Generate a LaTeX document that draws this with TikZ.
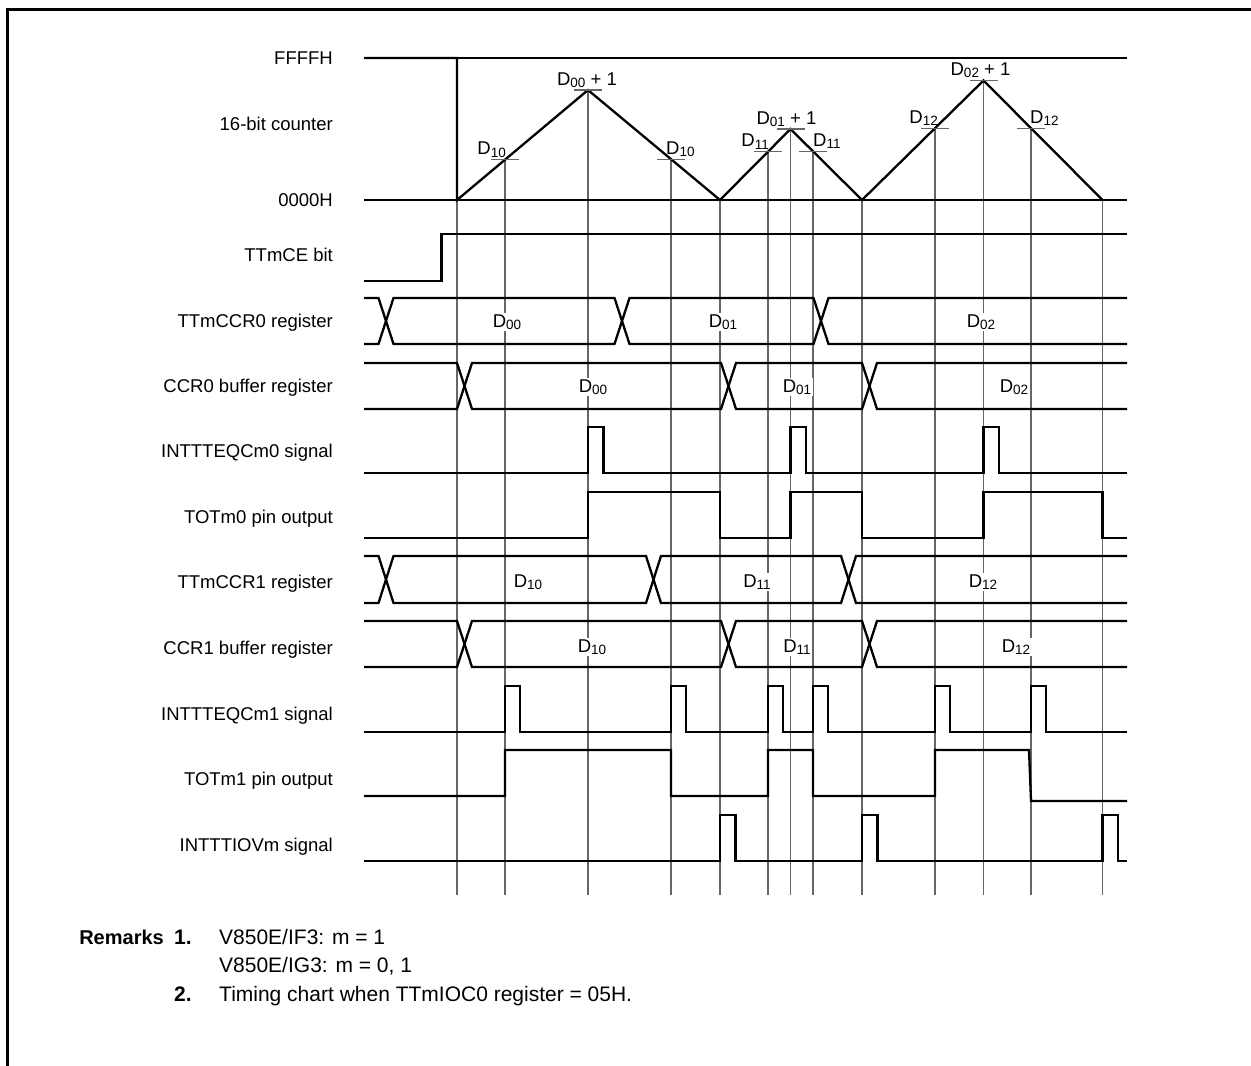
\documentclass[tikz,border=0pt]{standalone}
\usepackage{fontspec}
\setmainfont{Liberation Sans}
\usetikzlibrary{positioning}
\newcommand{\Dn}[1]{D\raisebox{-0.25ex}{\fontsize{13.5}{14}\selectfont #1}}

\begin{document}
\begin{tikzpicture}[
  x=1pt,y=-1pt,
  font=\fontsize{18.5}{20}\selectfont,
  sig/.style={line width=2.3pt,line join=miter},
  axis/.style={line width=1.2pt},
  guide/.style={draw=black!60,line width=1.1pt},
  tick/.style={draw=black!60,line width=1.1pt},
  lbl/.style={anchor=east,inner sep=0pt,text height=13pt,text depth=0pt},
  val/.style={fill=white,inner sep=1.5pt},
  cmark/.style={inner sep=0pt,anchor=base},
  rem/.style={font=\fontsize{21}{24}\selectfont,anchor=west,inner sep=0pt,text height=15pt,text depth=0pt}
]
\useasboundingbox (0,0) rectangle (1251,1066);
\draw[line width=3pt] (7,1066) -- (7,9) -- (1251,9);

% signal names
\node[lbl] (ffff) at (333,58) {FFFFH};
\node[lbl] (cnt) at (333,124) {16-bit counter};
\node[lbl] (zero) at (333,200) {0000H};
\node[lbl] (ce) at (333,255) {TTmCE bit};
\node[lbl] (ccr0) at (333,321) {TTmCCR0 register};
\node[lbl] (buf0) at (333,386) {CCR0 buffer register};
\node[lbl] (eq0) at (333,451) {INTTTEQCm0 signal};
\node[lbl] (tot0) at (333,517) {TOTm0 pin output};
\node[lbl] (ccr1) at (333,582) {TTmCCR1 register};
\node[lbl] (buf1) at (333,648) {CCR1 buffer register};
\node[lbl] (eq1) at (333,714) {INTTTEQCm1 signal};
\node[lbl] (tot1) at (333,779) {TOTm1 pin output};
\node[lbl] (ov) at (333,845) {INTTTIOVm signal};

% counter turning points and match points
\coordinate (z0) at (457,200);
\coordinate (a10) at (505,159.6);
\coordinate (p00) at (588,90);
\coordinate (b10) at (671,159.2);
\coordinate (z1) at (720,200);
\coordinate (a11) at (768,151.7);
\coordinate (p01) at (790.5,129);
\coordinate (b11) at (813,151.3);
\coordinate (z2) at (862,200);
\coordinate (a12) at (935,128.2);
\coordinate (p02) at (983.5,80.5);
\coordinate (b12) at (1031,128.2);
\coordinate (z3) at (1102.5,200);
\coordinate (bot) at (0,895);

\foreach \c in {z0,a10,p00,b10,z1,a11,p01,b11,z2,a12,p02,b12,z3}
  \draw[guide] (\c) -- (\c |- bot);

\draw[axis] (364,58) -- (1127,58);
\draw[axis] (364,200) -- (1127,200);
\draw[sig] (364,58) -- (457,58) -- (z0) -- (p00) -- (z1) -- (p01) -- (z2) -- (p02) -- (z3);

\foreach \c in {a10,p00,b10,a11,p01,b11,a12,p02,b12}
  \draw[tick] (\c) ++(-14,0) -- ++(28,0);

\node[cmark,anchor=base east,yshift=5pt,xshift=1pt] at (a10) {\Dn{10}};
\node[cmark,anchor=base west,yshift=5pt,xshift=-5pt] at (b10) {\Dn{10}};
\node[cmark,anchor=base east,yshift=5pt,xshift=1pt] at (a11) {\Dn{11}};
\node[cmark,anchor=base west,yshift=5pt] at (b11) {\Dn{11}};
\node[cmark,anchor=base east,yshift=5pt,xshift=3pt] at (a12) {\Dn{12}};
\node[cmark,anchor=base west,yshift=5pt,xshift=-1pt] at (b12) {\Dn{12}};
\node[cmark,yshift=5pt,xshift=-1pt] at (p00) {\Dn{00} + 1};
\node[cmark,yshift=5pt,xshift=-4pt] at (p01) {\Dn{01} + 1};
\node[cmark,yshift=5pt,xshift=-3pt] at (p02) {\Dn{02} + 1};

% TTmCE bit
\draw[sig] (364,281) -- (441.5,281) -- (441.5,234) -- (1127,234);

% registers and buffers
\foreach \yt/\yb/\ca/\cb/\cc in {298/344/386/622/821, 363/409/464.5/728.5/869.5,
    556/603/386/653.5/848.5, 621/667/464.5/728.5/869.5} {
  \draw[sig] (364,\yt) -- (\ca-7.5,\yt) -- (\ca+7.5,\yb) -- (\cb-7.5,\yb) -- (\cb+7.5,\yt)
    -- (\cc-7.5,\yt) -- (\cc+7.5,\yb) -- (1127,\yb);
  \draw[sig] (364,\yb) -- (\ca-7.5,\yb) -- (\ca+7.5,\yt) -- (\cb-7.5,\yt) -- (\cb+7.5,\yb)
    -- (\cc-7.5,\yb) -- (\cc+7.5,\yt) -- (1127,\yt);
}
\node[val] (r00) at (507,322) {\Dn{00}};
\node[val] (r01) at (723,322) {\Dn{01}};
\node[val] (r02) at (981,322) {\Dn{02}};
\node[val] (s00) at (593,387) {\Dn{00}};
\node[val] (s01) at (797,387) {\Dn{01}};
\node[val] (s02) at (1014,387) {\Dn{02}};
\node[val] (r10) at (528,582) {\Dn{10}};
\node[val] (r11) at (757,582) {\Dn{11}};
\node[val] (r12) at (983,582) {\Dn{12}};
\node[val] (s10) at (592,647) {\Dn{10}};
\node[val] (s11) at (797,647) {\Dn{11}};
\node[val] (s12) at (1016,647) {\Dn{12}};

% channel 0
\draw[sig] (364,473) -- (588,473) -- (588,427) -- (603.5,427) -- (603.5,473)
  -- (790.5,473) -- (790.5,427) -- (806,427) -- (806,473)
  -- (983.5,473) -- (983.5,427) -- (999,427) -- (999,473) -- (1127,473);
\draw[sig] (364,538) -- (588,538) -- (588,492) -- (720,492) -- (720,538)
  -- (790.5,538) -- (790.5,492) -- (862,492) -- (862,538)
  -- (983.5,538) -- (983.5,492) -- (1102.5,492) -- (1102.5,538) -- (1127,538);

% channel 1
\draw[sig] (364,732) -- (505,732) -- (505,686) -- (520,686) -- (520,732)
  -- (671,732) -- (671,686) -- (686,686) -- (686,732)
  -- (768,732) -- (768,686) -- (783,686) -- (783,732)
  -- (813,732) -- (813,686) -- (828,686) -- (828,732)
  -- (935,732) -- (935,686) -- (950,686) -- (950,732)
  -- (1031,732) -- (1031,686) -- (1046,686) -- (1046,732) -- (1127,732);
\draw[sig] (364,796) -- (505,796) -- (505,750) -- (671,750) -- (671,796)
  -- (768,796) -- (768,750) -- (813,750) -- (813,796)
  -- (935,796) -- (935,750) -- (1029,750) -- (1031,801) -- (1127,801);

% overflow
\draw[sig] (364,861) -- (720,861) -- (720,815) -- (735.5,815) -- (735.5,861)
  -- (862,861) -- (862,815) -- (877.5,815) -- (877.5,861)
  -- (1102.5,861) -- (1102.5,815) -- (1118,815) -- (1118,861) -- (1127,861);

% remarks
\node[rem] (one) at (174,937) {\bfseries 1.};
\node[rem,font=\fontsize{20}{24}\selectfont\bfseries,left=10pt of one.west,anchor=east] (rmk) {Remarks};
\node[rem] (r1) at (219,937) {V850E/IF3: m = 1};
\node[rem] (r1b) at (219,965) {V850E/IG3: m = 0, 1};
\node[rem] (two) at (174,994) {\bfseries 2.};
\node[rem] (r2) at (219,994) {Timing chart when TTmIOC0 register = 05H.};
\end{tikzpicture}
\end{document}
